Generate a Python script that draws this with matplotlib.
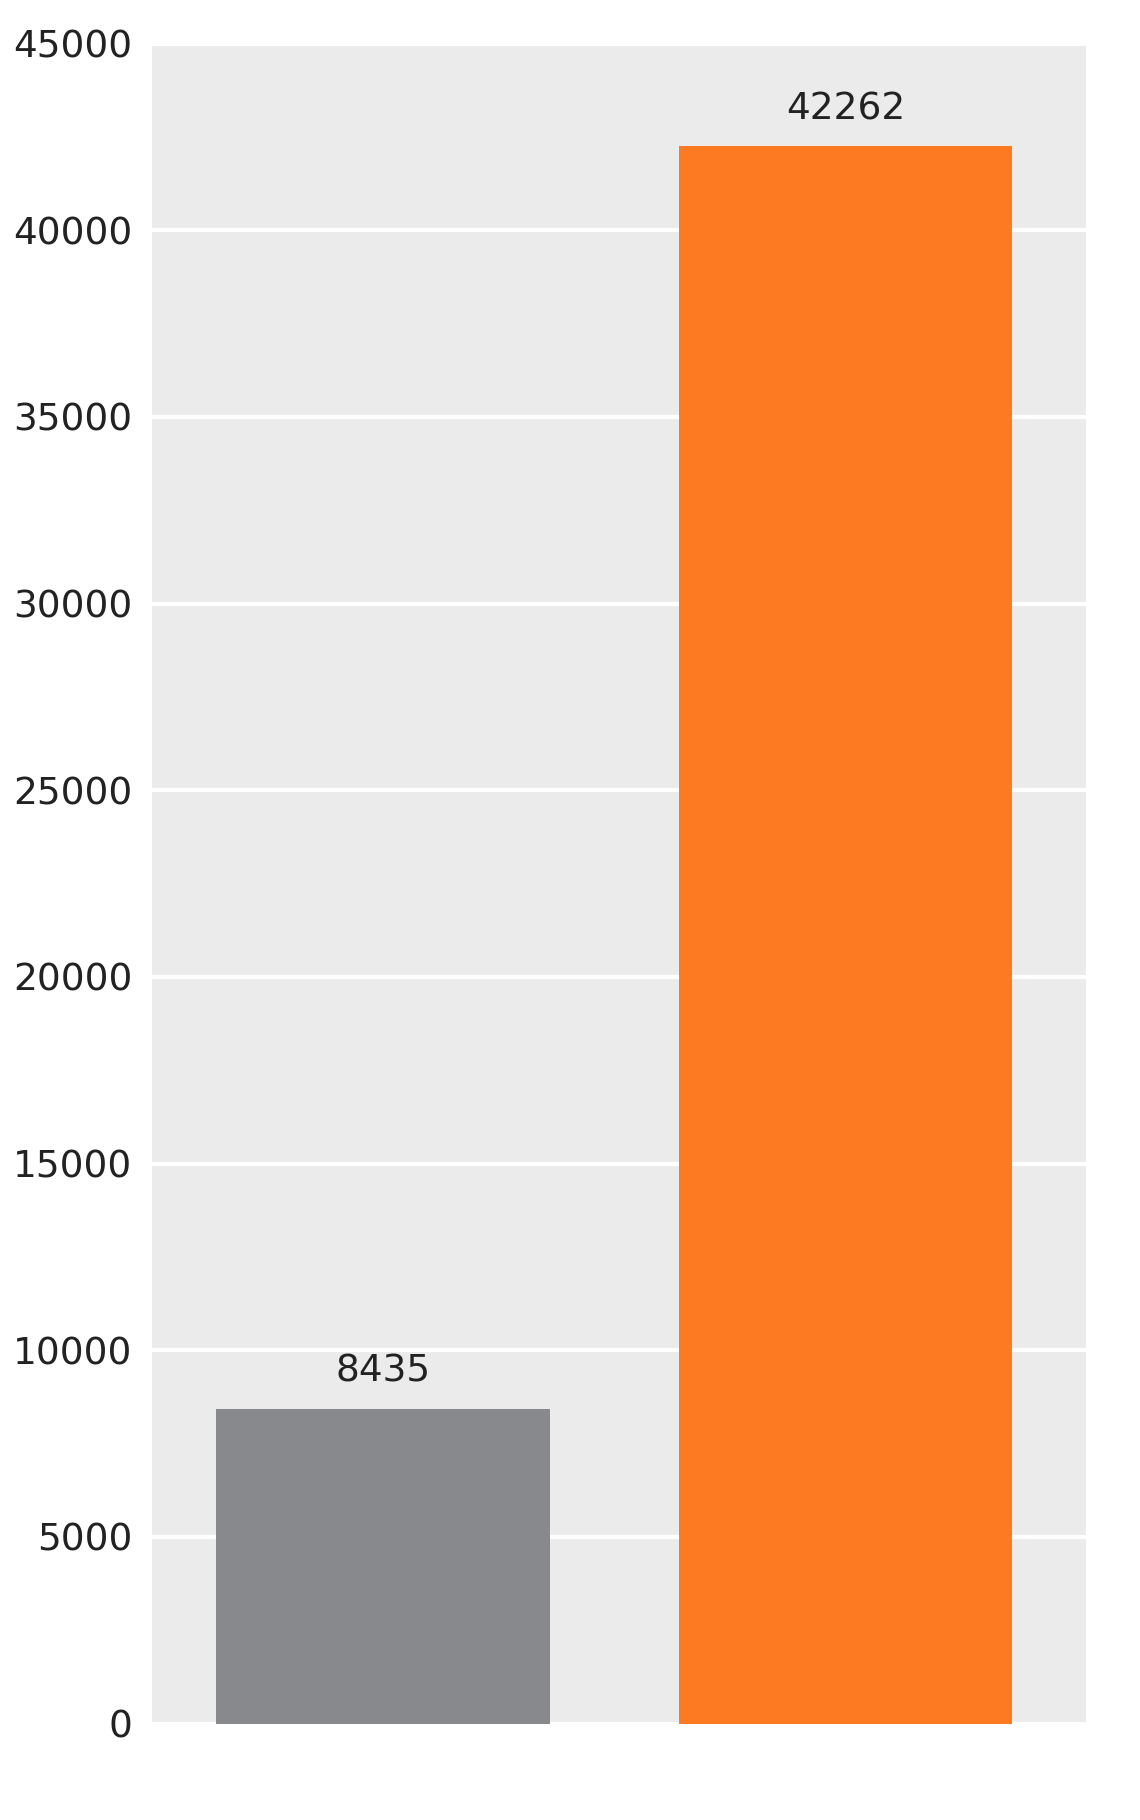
import matplotlib
matplotlib.use("Agg")
import matplotlib.pyplot as plt

categories = ["A", "B"]
values = [8435, 42262]
colors = ["#88898c", "#fe7a22"]
yticks = list(range(0, 45001, 5000))

fig = plt.figure(figsize=(11.4, 18.2), dpi=100)
ax = fig.add_axes([0.133, 0.053, 0.82, 0.923])
ax.set_facecolor("#ebebeb")
x = list(range(len(categories)))
bars = ax.bar(x, values, width=0.72, color=colors, zorder=3)
ax.set_xlim(-0.5, 1.52)
ax.set_ylim(0, 45000)
ax.set_yticks(yticks)
ax.set_yticklabels([str(t) for t in yticks], fontsize=27, color="#222222")
ax.set_xticks([])
ax.tick_params(axis="y", length=0, pad=14)
ax.grid(axis="y", color="white", linewidth=3, zorder=1)
for s in ax.spines.values():
    s.set_visible(False)
for b, v in zip(bars, values):
    ax.text(b.get_x() + b.get_width() / 2, v + 500, str(v), ha="center", va="bottom",
            fontsize=27, color="#222222")
fig.savefig("out.png")
